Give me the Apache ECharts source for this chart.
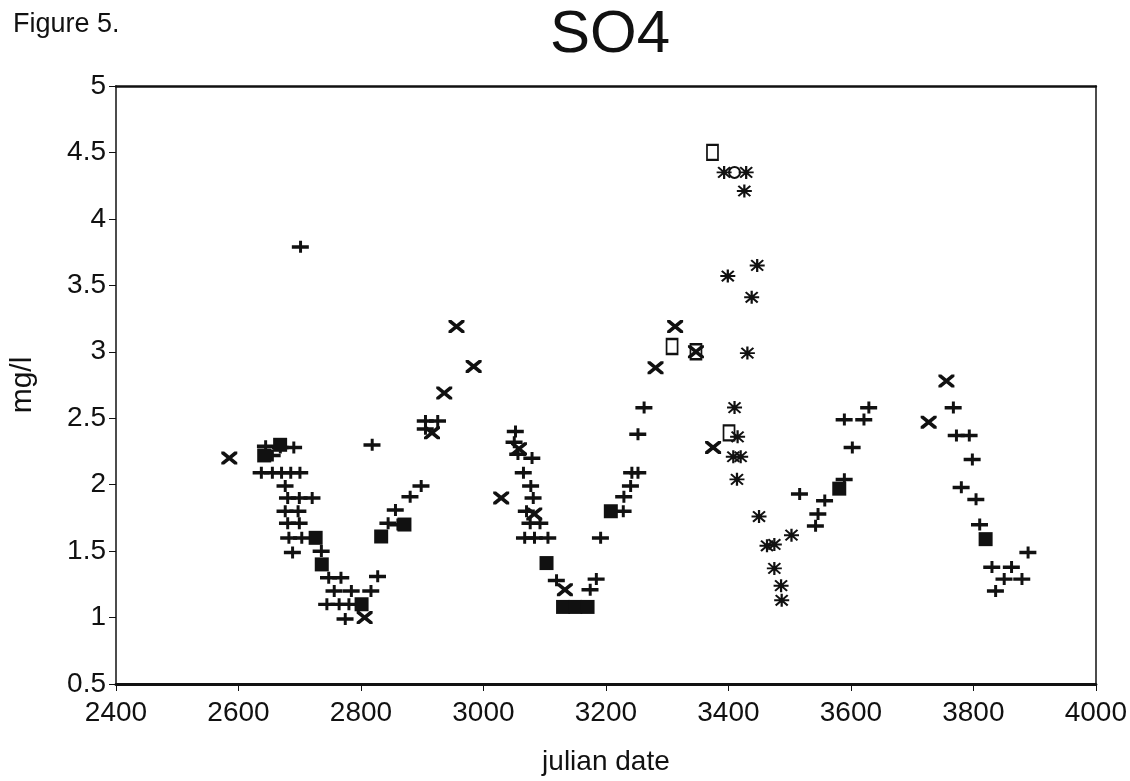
<!DOCTYPE html>
<html>
<head>
<meta charset="utf-8">
<script src="https://cdn.jsdelivr.net/npm/echarts@6/dist/echarts.min.js"></script>
<style>
  html, body { margin: 0; padding: 0; background: #fff; }
  #chart { width: 1130px; height: 781px; }
</style>
</head>
<body>
<div id="chart"></div>
<script>
// SO4 concentration (mg/l) against julian date, one array per plotting symbol.
const plusPts = [
  [2701, 3.79],
  [2905, 2.48], [2925, 2.48], [2905, 2.42],
  [2818, 2.30],
  [2644, 2.29], [2655, 2.22], [2668, 2.28], [2690, 2.28],
  [2637, 2.09], [2655, 2.09], [2670, 2.09], [2685, 2.09], [2700, 2.09],
  [2676, 1.99],
  [2680, 1.90], [2699, 1.90], [2720, 1.90],
  [2676, 1.80], [2697, 1.80],
  [2680, 1.71], [2699, 1.71],
  [2682, 1.60], [2703, 1.60],
  [2688, 1.49], [2735, 1.50],
  [2747, 1.30], [2767, 1.30],
  [2756, 1.20], [2784, 1.20], [2816, 1.20],
  [2827, 1.31],
  [2744, 1.10], [2764, 1.10], [2780, 1.10],
  [2774, 0.99],
  [2856, 1.81], [2844, 1.71], [2860, 1.70], [2880, 1.91], [2898, 1.99],
  [3052, 2.40], [3050, 2.32], [3079, 2.20], [3056, 2.23],
  [3065, 2.09], [3077, 1.99], [3081, 1.90], [3070, 1.80], [3076, 1.71], [3092, 1.71],
  [3067, 1.60], [3083, 1.60], [3105, 1.60],
  [3119, 1.28],
  [3184, 1.29], [3174, 1.21], [3191, 1.60],
  [3228, 1.80], [3229, 1.91], [3240, 1.99], [3242, 2.09], [3252, 2.09],
  [3262, 2.58], [3252, 2.38],
  [3516, 1.93], [3557, 1.88], [3589, 2.04], [3546, 1.78], [3542, 1.69],
  [3602, 2.28], [3589, 2.49], [3621, 2.49], [3629, 2.58],
  [3767, 2.58], [3772, 2.37], [3793, 2.37], [3798, 2.19], [3780, 1.98],
  [3804, 1.89], [3810, 1.70], [3889, 1.49], [3830, 1.38], [3862, 1.38],
  [3850, 1.29], [3879, 1.29], [3836, 1.20]
];

const blockPts = [
  [2642, 2.22], [2668, 2.30], [2726, 1.60], [2736, 1.40], [2801, 1.10],
  [2833, 1.61], [2871, 1.70], [3103, 1.41],
  [3130, 1.08], [3150, 1.08], [3170, 1.08],
  [3208, 1.80], [3581, 1.97], [3820, 1.59]
];

const crossPts = [
  [2585, 2.20], [2956, 3.19], [2984, 2.89], [2936, 2.69], [2916, 2.39],
  [2806, 1.00], [3058, 2.27], [3029, 1.90], [3083, 1.78], [3133, 1.21],
  [3313, 3.19], [3347, 3.00], [3281, 2.88], [3375, 2.28],
  [3756, 2.78], [3727, 2.47]
];

const starPts = [
  [3393, 4.35], [3429, 4.35], [3426, 4.21], [3447, 3.65], [3399, 3.57],
  [3438, 3.41], [3431, 2.99], [3410, 2.58], [3415, 2.36], [3408, 2.21],
  [3420, 2.21], [3414, 2.04], [3450, 1.76], [3463, 1.54], [3475, 1.55],
  [3475, 1.37], [3486, 1.24], [3487, 1.13], [3503, 1.62]
];

const boxPts = [
  [3374, 4.50], [3308, 3.04], [3347, 3.00], [3401, 2.39]
];

const ringPts = [
  [3410, 4.35]
];

const xTicks = { min: 2400, max: 4000, step: 200 };
const yTicks = { min: 0.5, max: 5, step: 0.5 };

// Filled outlines for the plotting symbols
const PLUS = 'path://M0,4H16V7.2H0Z M6.8,0H9.6V11H6.8Z';
const CROSS = 'path://M0,0L1.8,0L10,8.2L10,10L8.2,10L0,1.8Z M8.2,0L10,0L10,1.8L1.8,10L0,10L0,8.2Z';
const STAR = 'path://M0,4.25H10V5.75H0Z M4.25,0H5.75V10H4.25Z ' +
             'M1.5,0.5L9.5,8.5L8.5,9.5L0.5,1.5Z M8.5,0.5L9.5,1.5L1.5,9.5L0.5,8.5Z';

const FONT = '"Liberation Sans", Arial, sans-serif';
const INK = '#111';

const chart = echarts.init(document.getElementById('chart'), null, { renderer: 'canvas' });

chart.setOption({
  backgroundColor: '#fff',
  animation: false,
  title: [
    { text: 'SO4', left: 605, top: 0, textAlign: 'center',
      textStyle: { fontFamily: FONT, fontSize: 60, fontWeight: 'normal', color: INK } },
    { text: 'Figure 5.', left: 8, top: 6,
      textStyle: { fontFamily: FONT, fontSize: 27, fontWeight: 'normal', color: INK } }
  ],
  grid: { left: 112, right: 33, top: 86, bottom: 96, containLabel: false },
  xAxis: [
    {
      type: 'value', position: 'bottom',
      min: xTicks.min, max: xTicks.max, interval: xTicks.step,
      name: 'julian date', nameLocation: 'middle', nameGap: 64,
      nameTextStyle: { fontFamily: FONT, fontSize: 28, color: INK },
      axisLine: { show: true, lineStyle: { color: INK, width: 3 } },
      axisTick: { show: true, length: 7, lineStyle: { color: INK, width: 1 } },
      axisLabel: { fontFamily: FONT, fontSize: 28, color: INK, margin: 15,
                   formatter: v => String(v) },
      splitLine: { show: false }
    },
    {
      type: 'value', position: 'top',
      min: xTicks.min, max: xTicks.max,
      axisLine: { show: true, lineStyle: { color: INK, width: 2.5 } },
      axisTick: { show: false }, axisLabel: { show: false }, splitLine: { show: false }
    }
  ],
  yAxis: [
    {
      type: 'value', position: 'left',
      min: yTicks.min, max: yTicks.max, interval: yTicks.step,
      name: 'mg/l', nameLocation: 'middle', nameGap: 78, nameRotate: 90,
      nameTextStyle: { fontFamily: FONT, fontSize: 30, color: INK },
      axisLine: { show: true, lineStyle: { color: INK, width: 1.5 } },
      axisTick: { show: true, length: 7, lineStyle: { color: INK, width: 1 } },
      axisLabel: { fontFamily: FONT, fontSize: 28, color: INK, margin: 10,
                   formatter: v => String(v) },
      splitLine: { show: false }
    },
    {
      type: 'value', position: 'right',
      min: yTicks.min, max: yTicks.max,
      axisLine: { show: true, lineStyle: { color: INK, width: 1.5 } },
      axisTick: { show: false }, axisLabel: { show: false }, splitLine: { show: false }
    }
  ],
  series: [
    { name: 'plus', type: 'scatter', data: plusPts, symbol: PLUS, symbolSize: [17, 12],
      itemStyle: { color: INK, opacity: 1 } },
    { name: 'block', type: 'scatter', data: blockPts, symbol: 'rect', symbolSize: [14, 14],
      itemStyle: { color: INK, opacity: 1 } },
    { name: 'cross', type: 'scatter', data: crossPts, symbol: CROSS, symbolSize: [16, 13],
      itemStyle: { color: INK, opacity: 1 } },
    { name: 'star', type: 'scatter', data: starPts, symbol: STAR, symbolSize: [15, 13],
      itemStyle: { color: INK, opacity: 1 } },
    { name: 'box', type: 'scatter', data: boxPts, symbol: 'rect', symbolSize: [11, 15],
      itemStyle: { color: 'rgba(255,255,255,0)', borderColor: INK, borderWidth: 2, opacity: 1 } },
    { name: 'ring', type: 'scatter', data: ringPts, symbol: 'circle', symbolSize: [11, 11],
      itemStyle: { color: 'rgba(255,255,255,0)', borderColor: INK, borderWidth: 2, opacity: 1 } }
  ]
});
</script>
</body>
</html>
